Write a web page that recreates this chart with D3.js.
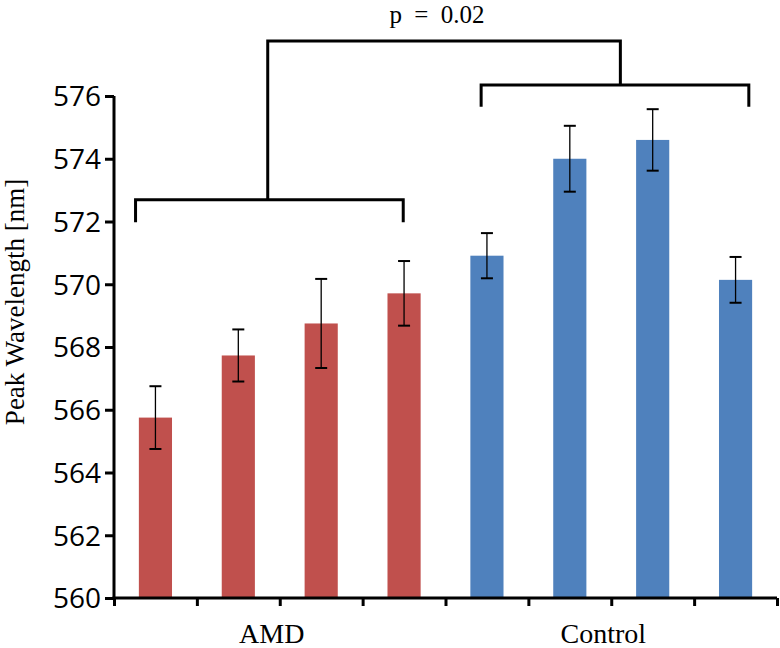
<!DOCTYPE html>
<html>
<head>
<meta charset="utf-8">
<script src="https://cdn.jsdelivr.net/npm/d3@7/dist/d3.min.js"></script>
<style>
  html, body { margin: 0; padding: 0; background: #fff; }
  svg { display: block; }
</style>
</head>
<body>
<svg id="chart" width="780" height="648"></svg>
<script>
// ---- data ----
const categories = ["AMD 1", "AMD 2", "AMD 3", "AMD 4", "Control 1", "Control 2", "Control 3", "Control 4"];
const groups = ["AMD", "AMD", "AMD", "AMD", "Control", "Control", "Control", "Control"];
const values = [565.75, 567.73, 568.75, 569.71, 570.91, 574.0, 574.6, 570.14];
const errors = [1.0, 0.83, 1.42, 1.03, 0.72, 1.05, 0.98, 0.73];
const groupLabels = ["AMD", "Control"];
const yTicks = [560, 562, 564, 566, 568, 570, 572, 574, 576];
const yTitle = "Peak Wavelength [nm]";
const pLabel = "p = 0.02";

// ---- layout ----
const svg = d3.select("#chart");
const plotLeft = 114, plotRight = 777, plotTop = 96, plotBottom = 598;
const colors = { AMD: "#C0504D", Control: "#4F81BD" };

const y = d3.scaleLinear().domain([560, 576]).range([plotBottom, plotTop]);
const x = d3.scaleBand().domain(categories).range([plotLeft, plotRight]).paddingInner(0.6).paddingOuter(0.3);
const idx = d3.scaleLinear().domain([0, categories.length]).range([plotLeft, plotRight]);

// bars
svg.append("g").selectAll("rect").data(categories).join("rect")
  .attr("x", d => x(d))
  .attr("width", x.bandwidth())
  .attr("y", (d, i) => y(values[i]))
  .attr("height", (d, i) => y(560) - y(values[i]))
  .attr("fill", (d, i) => colors[groups[i]]);

// error bars
const eb = svg.append("g").attr("stroke", "#000");
categories.forEach((c, i) => {
  const cx = x(c) + x.bandwidth() / 2;
  const y1 = y(values[i] + errors[i]), y2 = y(values[i] - errors[i]);
  eb.append("line").attr("x1", cx).attr("x2", cx).attr("y1", y1).attr("y2", y2).attr("stroke-width", 1.3);
  [y1, y2].forEach(yy => eb.append("line").attr("x1", cx - 6).attr("x2", cx + 6).attr("y1", yy).attr("y2", yy).attr("stroke-width", 2));
});

// y axis
const yAxis = svg.append("g").attr("transform", `translate(${plotLeft},0)`)
  .call(d3.axisLeft(y).tickValues(yTicks).tickSize(9).tickPadding(4).tickFormat(d3.format("d")));
yAxis.select(".domain").attr("stroke", "#000").attr("stroke-width", 3).attr("d", `M0,${plotTop}V${plotBottom + 1.5}`);
yAxis.selectAll(".tick line").attr("stroke", "#000").attr("stroke-width", 3);
yAxis.selectAll(".tick text").attr("font-family", "'Open Sans', sans-serif").attr("font-size", 28).attr("fill", "#000").attr("dy", "0.35em");

// x axis
const xAxis = svg.append("g").attr("transform", `translate(0,${plotBottom})`)
  .call(d3.axisBottom(idx).tickValues(d3.range(categories.length + 1)).tickSize(8).tickFormat(""));
xAxis.select(".domain").attr("stroke", "#000").attr("stroke-width", 3).attr("d", `M${plotLeft - 1.5},0H${plotRight}`);
xAxis.selectAll(".tick line").attr("stroke", "#000").attr("stroke-width", 3);

// group labels
groupLabels.forEach(g => {
  const members = categories.filter((c, i) => groups[i] === g);
  const cx = (x(members[0]) + x(members[members.length - 1]) + x.bandwidth()) / 2 - 8;
  svg.append("text").attr("x", cx).attr("y", 643).attr("text-anchor", "middle")
    .attr("font-family", "'Liberation Serif', serif").attr("font-size", 28).attr("fill", "#000").text(g);
});

// y title
svg.append("text")
  .attr("transform", `translate(24,302) rotate(-90)`)
  .attr("text-anchor", "middle")
  .attr("font-family", "'Liberation Serif', serif").attr("font-size", 27).attr("fill", "#000")
  .text(yTitle);

// significance brackets (positions in category-index units and value units)
const br = svg.append("g").attr("fill", "none").attr("stroke", "#000").attr("stroke-width", 3);
const amdL = idx(0.26), amdR = idx(3.49), amdStem = idx(1.855);
const ctlL = idx(4.43), ctlR = idx(7.66), ctlStem = idx(6.11);
const yAmd = y(572.69), yAmdLeg = y(571.98);
const yCtl = y(576.35), yCtlLeg = y(575.66);
const yTopBr = y(577.75);
br.append("path").attr("d", `M${amdL},${yAmdLeg}V${yAmd}H${amdR}V${yAmdLeg}`);
br.append("path").attr("d", `M${ctlL},${yCtlLeg}V${yCtl}H${ctlR}V${yCtlLeg}`);
br.append("path").attr("d", `M${amdStem},${yAmd}V${yTopBr}H${ctlStem}V${yCtl}`);

svg.append("text").attr("x", (amdStem + ctlStem) / 2 - 7).attr("y", 23).attr("text-anchor", "middle")
  .attr("font-family", "'Liberation Serif', serif").attr("font-size", 25).attr("word-spacing", 6).attr("fill", "#000")
  .text(pLabel);
</script>
</body>
</html>
